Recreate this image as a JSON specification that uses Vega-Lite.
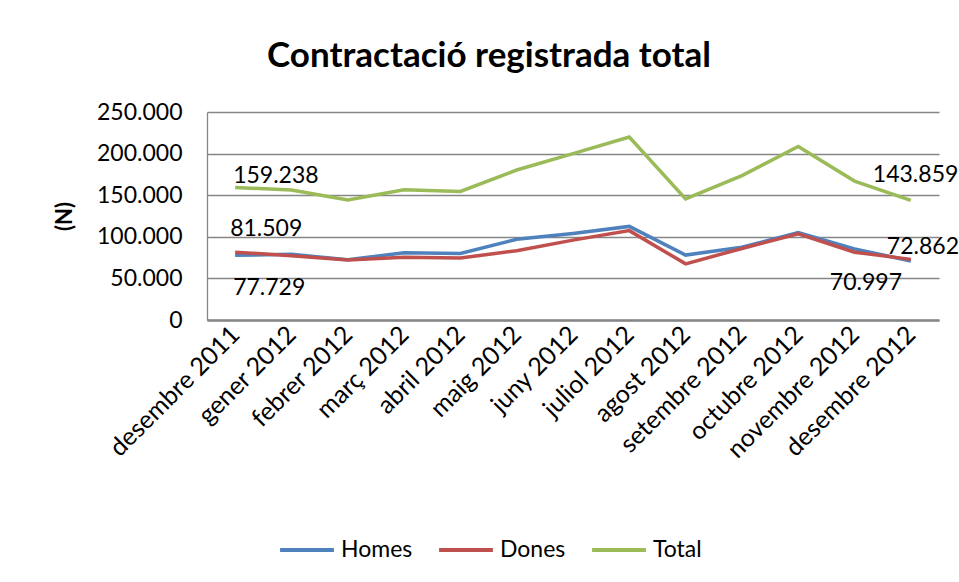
{
  "$schema": "https://vega.github.io/schema/vega-lite/v6.json",
  "width": 732,
  "height": 208,
  "autosize": {"type": "none"},
  "padding": {"left": 207, "top": 112, "right": 20, "bottom": 262},
  "background": "white",
  "title": {
    "text": "Contractació registrada total",
    "anchor": "middle",
    "frame": "group",
    "baseline": "alphabetic",
    "offset": -1,
    "dx": -84,
    "font": "Lato",
    "fontSize": 35,
    "fontWeight": "bold",
    "color": "black"
  },
  "config": {
    "locale": {"number": {"decimal": ",", "thousands": ".", "grouping": [3], "currency": ["", " €"]}},
    "view": {"stroke": null},
    "font": "Lato"
  },
  "data": {
    "values": [
      {"mes": "desembre 2011", "serie": "Homes", "valor": 77729},
      {"mes": "gener 2012", "serie": "Homes", "valor": 79000},
      {"mes": "febrer 2012", "serie": "Homes", "valor": 72300},
      {"mes": "març 2012", "serie": "Homes", "valor": 80900},
      {"mes": "abril 2012", "serie": "Homes", "valor": 80000},
      {"mes": "maig 2012", "serie": "Homes", "valor": 97000},
      {"mes": "juny 2012", "serie": "Homes", "valor": 104000},
      {"mes": "juliol 2012", "serie": "Homes", "valor": 112500},
      {"mes": "agost 2012", "serie": "Homes", "valor": 78000},
      {"mes": "setembre 2012", "serie": "Homes", "valor": 87500},
      {"mes": "octubre 2012", "serie": "Homes", "valor": 105000},
      {"mes": "novembre 2012", "serie": "Homes", "valor": 85500},
      {"mes": "desembre 2012", "serie": "Homes", "valor": 70997},
      {"mes": "desembre 2011", "serie": "Dones", "valor": 81509},
      {"mes": "gener 2012", "serie": "Dones", "valor": 77300},
      {"mes": "febrer 2012", "serie": "Dones", "valor": 72000},
      {"mes": "març 2012", "serie": "Dones", "valor": 75500},
      {"mes": "abril 2012", "serie": "Dones", "valor": 74500},
      {"mes": "maig 2012", "serie": "Dones", "valor": 83300},
      {"mes": "juny 2012", "serie": "Dones", "valor": 96000},
      {"mes": "juliol 2012", "serie": "Dones", "valor": 107400},
      {"mes": "agost 2012", "serie": "Dones", "valor": 67500},
      {"mes": "setembre 2012", "serie": "Dones", "valor": 86000},
      {"mes": "octubre 2012", "serie": "Dones", "valor": 103500},
      {"mes": "novembre 2012", "serie": "Dones", "valor": 81500},
      {"mes": "desembre 2012", "serie": "Dones", "valor": 72862},
      {"mes": "desembre 2011", "serie": "Total", "valor": 159238},
      {"mes": "gener 2012", "serie": "Total", "valor": 156300},
      {"mes": "febrer 2012", "serie": "Total", "valor": 144300},
      {"mes": "març 2012", "serie": "Total", "valor": 156400},
      {"mes": "abril 2012", "serie": "Total", "valor": 154500},
      {"mes": "maig 2012", "serie": "Total", "valor": 180300},
      {"mes": "juny 2012", "serie": "Total", "valor": 200000},
      {"mes": "juliol 2012", "serie": "Total", "valor": 219900},
      {"mes": "agost 2012", "serie": "Total", "valor": 145500},
      {"mes": "setembre 2012", "serie": "Total", "valor": 173500},
      {"mes": "octubre 2012", "serie": "Total", "valor": 208500},
      {"mes": "novembre 2012", "serie": "Total", "valor": 167000},
      {"mes": "desembre 2012", "serie": "Total", "valor": 143859}
    ]
  },
  "encoding": {
    "x": {
      "field": "mes",
      "type": "ordinal",
      "sort": null,
      "scale": {"type": "point", "padding": 0.5},
      "axis": {
        "title": null,
        "labelAngle": -45,
        "labelAlign": "right",
        "labelBaseline": "middle",
        "labelFontSize": 25,
        "labelFont": "Lato",
        "labelColor": "black",
        "labelPadding": 10,
        "labelOverlap": false,
        "ticks": false,
        "grid": false,
        "domainColor": "#868686",
        "domainWidth": 2.5
      }
    },
    "y": {
      "field": "valor",
      "type": "quantitative",
      "scale": {"domain": [0, 250000], "nice": false},
      "axis": {
        "title": "(N)",
        "titleFont": "Lato",
        "titleFontSize": 22,
        "titleFontWeight": "bold",
        "titleColor": "black",
        "titlePadding": 20,
        "values": [0, 50000, 100000, 150000, 200000, 250000],
        "format": ",d",
        "labelFontSize": 23,
        "labelFont": "Lato",
        "labelColor": "black",
        "labelPadding": 25,
        "ticks": false,
        "gridColor": "#868686",
        "gridWidth": 1.3,
        "domainColor": "#868686",
        "domainWidth": 1.3
      }
    }
  },
  "layer": [
    {
      "mark": {"type": "line", "strokeWidth": 3.5},
      "encoding": {
        "color": {
          "field": "serie",
          "type": "nominal",
          "scale": {"domain": ["Homes", "Dones", "Total"], "range": ["#4F81BD", "#C0504D", "#9BBB59"]},
          "legend": {
            "title": null,
            "orient": "none",
            "direction": "horizontal",
            "legendX": 71,
            "legendY": 409,
            "symbolType": "stroke",
            "symbolSize": 2900,
            "symbolStrokeWidth": 4,
            "labelFontSize": 23,
            "labelFont": "Lato",
            "labelColor": "black",
            "labelOffset": 5,
            "columnPadding": 18
          }
        }
      }
    },
    {
      "transform": [{"filter": "datum.serie == 'Total' && datum.mes == 'desembre 2011'"}],
      "mark": {"type": "text", "align": "left", "baseline": "middle", "dx": -2, "dy": -12, "fontSize": 23, "font": "Lato", "color": "black"},
      "encoding": {"text": {"field": "valor", "type": "quantitative", "format": ",d"}}
    },
    {
      "transform": [{"filter": "datum.serie == 'Dones' && datum.mes == 'desembre 2011'"}],
      "mark": {"type": "text", "align": "left", "baseline": "middle", "dx": -5, "dy": -23, "fontSize": 23, "font": "Lato", "color": "black"},
      "encoding": {"text": {"field": "valor", "type": "quantitative", "format": ",d"}}
    },
    {
      "transform": [{"filter": "datum.serie == 'Homes' && datum.mes == 'desembre 2011'"}],
      "mark": {"type": "text", "align": "left", "baseline": "middle", "dx": -2, "dy": 33, "fontSize": 23, "font": "Lato", "color": "black"},
      "encoding": {"text": {"field": "valor", "type": "quantitative", "format": ",d"}}
    },
    {
      "transform": [{"filter": "datum.serie == 'Total' && datum.mes == 'desembre 2012'"}],
      "mark": {"type": "text", "align": "left", "baseline": "middle", "dx": -38, "dy": -25, "fontSize": 23, "font": "Lato", "color": "black"},
      "encoding": {"text": {"field": "valor", "type": "quantitative", "format": ",d"}}
    },
    {
      "transform": [{"filter": "datum.serie == 'Dones' && datum.mes == 'desembre 2012'"}],
      "mark": {"type": "text", "align": "left", "baseline": "middle", "dx": -24, "dy": -12, "fontSize": 23, "font": "Lato", "color": "black"},
      "encoding": {"text": {"field": "valor", "type": "quantitative", "format": ",d"}}
    },
    {
      "transform": [{"filter": "datum.serie == 'Homes' && datum.mes == 'desembre 2012'"}],
      "mark": {"type": "text", "align": "left", "baseline": "middle", "dx": -81, "dy": 22, "fontSize": 23, "font": "Lato", "color": "black"},
      "encoding": {"text": {"field": "valor", "type": "quantitative", "format": ",d"}}
    }
  ]
}
